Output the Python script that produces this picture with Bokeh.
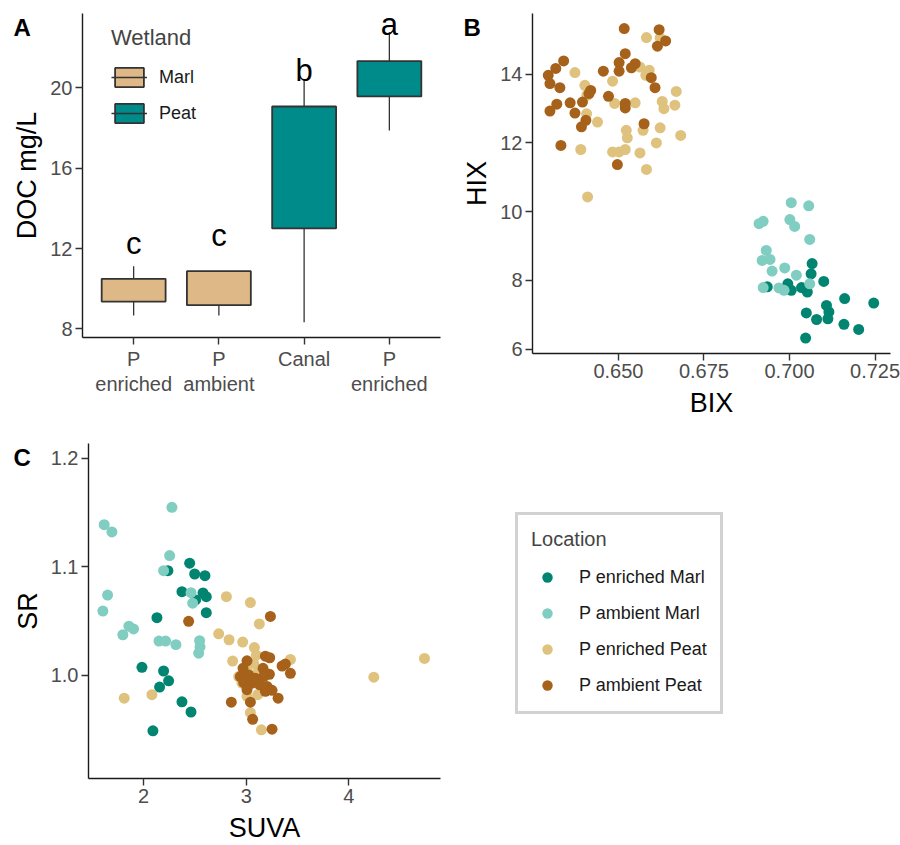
from bokeh.plotting import figure
from bokeh.layouts import column, row
from bokeh.models import (Range1d, FixedTicker, Legend, LegendItem, Label, GridBox,
                          ColumnDataSource, NumeralTickFormatter)
from bokeh.core.properties import value
from bokeh.embed import file_html
from bokeh.resources import INLINE

FONT = "Liberation Sans"

# ---- Panel A: DOC boxplots by site ----
site_pos = [1, 2, 3, 4]
site_labels = ["P\nenriched", "P\nambient", "Canal", "P\nenriched"]
wetland = ["Marl", "Marl", "Peat", "Peat"]
doc_lower = [8.66, 8.66, 8.33, 17.88]
doc_q1 = [9.36, 9.18, 13.00, 19.57]
doc_median = [10.12, 9.99, 13.93, 20.10]
doc_q3 = [10.49, 10.87, 19.07, 21.33]
doc_upper = [11.12, 10.87, 20.40, 22.77]
group_letters = ["c", "c", "b", "a"]
letter_y = [11.8, 12.2, 20.4, 22.7]
wetland_colors = {"Marl": "#DEB887", "Peat": "#008B8B"}

# ---- Panel B / C: optical indices by location ----
locations = ["P enriched Marl", "P ambient Marl", "P enriched Peat", "P ambient Peat"]
location_colors = ["#018571", "#80CDC1", "#DFC27D", "#A6611A"]

bix_enr_marl = [0.7066, 0.7063, 0.7100, 0.6935, 0.6995, 0.7005, 0.7035, 0.7052, 0.7161,
                0.7246, 0.7108, 0.7115, 0.7112, 0.7049, 0.7079, 0.7159, 0.7202, 0.7047]
hix_enr_marl = [8.49, 8.19, 7.97, 7.81, 7.90, 7.71, 7.79, 7.66, 7.47,
                7.34, 7.27, 7.08, 6.88, 7.05, 6.86, 6.72, 6.57, 6.32]
bix_amb_marl = [0.7005, 0.7056, 0.6911, 0.6923, 0.7001, 0.7015, 0.7059, 0.6932, 0.6920,
                0.6943, 0.6949, 0.6986, 0.7020, 0.7059, 0.6923, 0.6969, 0.6984]
hix_amb_marl = [10.26, 10.17, 9.65, 9.72, 9.77, 9.57, 9.19, 8.87, 8.58,
                8.61, 8.27, 8.36, 8.15, 7.90, 7.79, 7.78, 7.71]
bix_enr_peat = [0.6582, 0.6622, 0.6373, 0.6563, 0.6590, 0.6580, 0.6483, 0.6402, 0.6408,
                0.6669, 0.6628, 0.6633, 0.6665, 0.6489, 0.6549, 0.6407, 0.6439, 0.6523,
                0.6526, 0.6572, 0.6622, 0.6682, 0.6611, 0.6390, 0.6483, 0.6502, 0.6520,
                0.6563, 0.6582, 0.6410]
hix_enr_peat = [15.07, 15.06, 14.05, 14.21, 14.12, 13.97, 13.80, 13.68, 13.39,
                13.50, 13.21, 13.00, 13.10, 13.15, 13.17, 12.85, 12.61, 12.37,
                12.15, 12.37, 12.44, 12.22, 12.00, 11.81, 11.74, 11.74, 11.81,
                11.71, 11.23, 10.43]
bix_amb_peat = [0.6517, 0.6619, 0.6638, 0.6614, 0.6520, 0.6340, 0.6317, 0.6295, 0.6300,
                0.6329, 0.6456, 0.6502, 0.6502, 0.6549, 0.6538, 0.6596, 0.6607, 0.6419,
                0.6414, 0.6471, 0.6520, 0.6520, 0.6359, 0.6395, 0.6320, 0.6300, 0.6373,
                0.6405, 0.6392, 0.6575, 0.6332, 0.6497]
hix_amb_peat = [15.33, 15.30, 14.97, 14.82, 14.60, 14.39, 14.17, 13.97, 13.73,
                13.61, 14.09, 14.34, 14.09, 14.31, 14.19, 13.90, 13.61, 13.53,
                13.44, 13.36, 13.15, 13.02, 13.17, 13.19, 13.13, 12.93, 12.87,
                12.66, 12.47, 12.56, 11.93, 11.37]

suva_enr_marl = [2.237, 2.449, 2.498, 2.598, 2.374, 2.579, 2.611, 2.507, 2.611,
                 2.130, 1.984, 2.195, 2.244, 2.156, 2.374, 2.462, 2.091]
sr_enr_marl = [1.0964, 1.1033, 1.0933, 1.0918, 1.0770, 1.0758, 1.0724, 1.0694, 1.0576,
               1.0530, 1.0073, 1.0039, 0.9948, 0.9891, 0.9755, 0.9661, 0.9488]
suva_amb_marl = [2.276, 1.616, 1.691, 2.254, 2.195, 1.649, 1.603, 2.462, 2.478,
                 1.857, 1.902, 1.798, 2.150, 2.215, 2.315, 2.546, 2.550, 2.537]
sr_amb_marl = [1.1548, 1.1388, 1.1321, 1.1103, 1.0964, 1.0739, 1.0591, 1.0761, 1.0664,
               1.0452, 1.0427, 1.0373, 1.0315, 1.0315, 1.0282, 1.0318, 1.0261, 1.0203]
suva_enr_peat = [2.807, 3.041, 3.128, 2.732, 2.833, 2.966, 3.080, 2.868, 3.431,
                 3.099, 3.008, 2.927, 3.008, 3.112, 3.041, 3.148, 1.811, 2.081,
                 4.244, 4.738, 3.073, 3.106, 2.959]
sr_enr_peat = [1.0724, 1.0670, 1.0473, 1.0382, 1.0327, 1.0306, 1.0255, 1.0130, 1.0145,
               1.0185, 1.0048, 0.9988, 0.9806, 0.9821, 0.9655, 0.9497, 0.9788, 0.9821,
               0.9982, 1.0155, 1.0109, 1.0018, 0.9927]
suva_amb_peat = [2.439, 3.236, 3.187, 3.229, 3.350, 3.382, 3.164, 3.431, 3.226,
                 3.008, 2.969, 2.943, 2.976, 3.057, 3.008, 3.132, 3.203, 3.252,
                 3.187, 3.311, 2.855, 3.041, 3.063, 3.252, 3.171, 3.024, 3.089]
sr_amb_peat = [1.0497, 1.0542, 1.0176, 1.0161, 1.0085, 1.0103, 1.0064, 1.0018, 1.0009,
               1.0133, 1.0064, 0.9988, 0.9933, 0.9927, 0.9867, 0.9912, 0.9897, 0.9861,
               0.9852, 0.9788, 0.9752, 0.9752, 0.9594, 0.9503, 0.9988, 1.0003, 0.9973]

bix_sets = [bix_enr_marl, bix_amb_marl, bix_enr_peat, bix_amb_peat]
hix_sets = [hix_enr_marl, hix_amb_marl, hix_enr_peat, hix_amb_peat]
suva_sets = [suva_enr_marl, suva_amb_marl, suva_enr_peat, suva_amb_peat]
sr_sets = [sr_enr_marl, sr_amb_marl, sr_enr_peat, sr_amb_peat]

panel_tags = ["A", "B", "C"]


def classic_axes(p):
    p.outline_line_color = None
    p.xgrid.visible = False
    p.ygrid.visible = False
    p.background_fill_color = "white"
    p.border_fill_color = "white"
    for ax in p.axis:
        ax.axis_line_color = "#1a1a1a"
        ax.axis_line_width = 1.4
        ax.major_tick_line_color = "#333333"
        ax.major_tick_line_width = 1.4
        ax.major_tick_out = 7
        ax.major_tick_in = 0
        ax.minor_tick_line_color = None
        ax.major_label_text_font = FONT
        ax.major_label_text_font_size = "20px"
        ax.major_label_text_color = "#4D4D4D"
        ax.major_label_text_line_height = 1.15
        ax.major_label_standoff = 3
        ax.axis_label_text_font = FONT
        ax.axis_label_text_font_size = "27px"
        ax.axis_label_text_font_style = "normal"
        ax.axis_label_text_color = "black"
    for ax in p.xaxis:
        ax.axis_label_standoff = 7
    for ax in p.yaxis:
        ax.axis_label_standoff = 5


# ---------- A ----------
pa = figure(width=450, height=430, output_backend="svg", toolbar_location=None,
            x_range=Range1d(0.4, 4.6), y_range=Range1d(7.57, 23.7), frame_align=False,
            min_border_left=82, min_border_right=10, min_border_top=13, min_border_bottom=93)
classic_axes(pa)

box_src = ColumnDataSource(dict(
    x=site_pos, lower=doc_lower, q1=doc_q1, med=doc_median, q3=doc_q3, upper=doc_upper,
    color=[wetland_colors[w] for w in wetland]))
whisk_src = ColumnDataSource(dict(
    x=site_pos + site_pos,
    y0=doc_q3 + doc_q1,
    y1=doc_upper + doc_lower))

whiskers = pa.segment(x0="x", y0="y0", x1="x", y1="y1", source=whisk_src,
                      line_color="#333333", line_width=1.3)
boxes = pa.vbar(x="x", width=0.75, top="q3", bottom="q1", source=box_src,
                fill_color="color", line_color="#333333", line_width=1.8)
pa.rect(x="x", y="med", width=0.75, height=0, source=box_src,
        line_color="#333333", line_width=3.4, fill_color=None)
pa.text(x=site_pos, y=letter_y, text=group_letters, text_font=value(FONT),
        text_font_size="31px", text_align="center", text_baseline="alphabetic",
        y_offset=-9, text_color="black")

pa.xaxis.ticker = FixedTicker(ticks=site_pos)
pa.xaxis.major_label_overrides = {p: l for p, l in zip(site_pos, site_labels)}
pa.yaxis.ticker = FixedTicker(ticks=[8, 12, 16, 20])
pa.yaxis.axis_label = "DOC mg/L"

leg_a = Legend(items=[LegendItem(label="Marl", renderers=[boxes, whiskers], index=0),
                      LegendItem(label="Peat", renderers=[boxes, whiskers], index=2)],
               title="Wetland", location=(29, 212))
leg_a.title_text_font = FONT
leg_a.title_text_font_size = "22px"
leg_a.title_text_font_style = "normal"
leg_a.title_standoff = 14
leg_a.label_text_font = FONT
leg_a.label_text_font_size = "18px"
leg_a.label_text_color = "#1a1a1a"
leg_a.glyph_width = 36
leg_a.glyph_height = 24
leg_a.label_height = 24
leg_a.label_standoff = 12
leg_a.spacing = 12
leg_a.padding = 10
leg_a.border_line_color = None
leg_a.background_fill_alpha = 0
pa.add_layout(leg_a)

# ---------- B ----------
pb = figure(width=450, height=430, output_backend="svg", toolbar_location=None,
            x_range=Range1d(0.6249, 0.7295), y_range=Range1d(5.87, 15.77), frame_align=False,
            min_border_left=82, min_border_right=10, min_border_top=13, min_border_bottom=77)
classic_axes(pb)
for xs, ys, c in zip(bix_sets, hix_sets, location_colors):
    pb.scatter(xs, ys, size=11, fill_color=c, line_color=None)
pb.xaxis.ticker = FixedTicker(ticks=[0.650, 0.675, 0.700, 0.725])
pb.xaxis.formatter = NumeralTickFormatter(format="0.000")
pb.yaxis.ticker = FixedTicker(ticks=[6, 8, 10, 12, 14])
pb.xaxis.axis_label = "BIX"
pb.yaxis.axis_label = "HIX"

# ---------- C ----------
pc = figure(width=900, height=415, output_backend="svg", toolbar_location=None,
            x_range=Range1d(1.463, 4.894), y_range=Range1d(0.9048, 1.2136), frame_align=False,
            min_border_left=88, min_border_right=460, min_border_top=13, min_border_bottom=62)
classic_axes(pc)
for xs, ys, c in zip(suva_sets, sr_sets, location_colors):
    pc.scatter(xs, ys, size=11, fill_color=c, line_color=None)
pc.xaxis.ticker = FixedTicker(ticks=[2, 3, 4])
pc.yaxis.ticker = FixedTicker(ticks=[1.0, 1.1, 1.2])
pc.yaxis.formatter = NumeralTickFormatter(format="0.0")
pc.xaxis.axis_label = "SUVA"
pc.yaxis.axis_label = "SR"

# ---------- transparent sheet over the page: panel tags and the Location key ----------
sheet = figure(width=900, height=845, output_backend="svg", toolbar_location=None,
               x_range=Range1d(0, 900), y_range=Range1d(845, 0), frame_align=False,
               x_axis_location=None, y_axis_location=None, min_border=0)
sheet.outline_line_color = None
sheet.xgrid.visible = False
sheet.ygrid.visible = False
sheet.background_fill_alpha = 0
sheet.border_fill_alpha = 0
for tag, tx, ty in zip(panel_tags, [13, 463, 13], [27, 27, 457]):
    sheet.add_layout(Label(x=tx, y=ty, text=tag, text_font=FONT, text_font_size="24px",
                           text_font_style="bold", text_baseline="alphabetic",
                           text_align="left", text_color="black"))

key_items = []
for xs, ys, c, name in zip(suva_sets, sr_sets, location_colors, locations):
    r = sheet.scatter(xs, ys, size=11, fill_color=c, line_color=None, visible=False)
    key_items.append(LegendItem(label=name, renderers=[r]))

leg_c = Legend(items=key_items, title="Location", location=(515, 131))
leg_c.title_text_font = FONT
leg_c.title_text_font_size = "20px"
leg_c.title_text_font_style = "normal"
leg_c.title_standoff = 13
leg_c.label_text_font = FONT
leg_c.label_text_font_size = "18px"
leg_c.label_text_color = "#1a1a1a"
leg_c.glyph_width = 32
leg_c.glyph_height = 26
leg_c.label_height = 26
leg_c.label_standoff = 16
leg_c.spacing = 10
leg_c.padding = 13
leg_c.border_line_color = "#A6A6A6"
leg_c.border_line_width = 3
leg_c.background_fill_color = "white"
leg_c.inactive_fill_alpha = 0
sheet.add_layout(leg_c)

panels = column(row(pa, pb), pc)
page = GridBox(children=[(panels, 0, 0), (sheet, 0, 0)])
open("out.html", "w").write(file_html(page, INLINE))
